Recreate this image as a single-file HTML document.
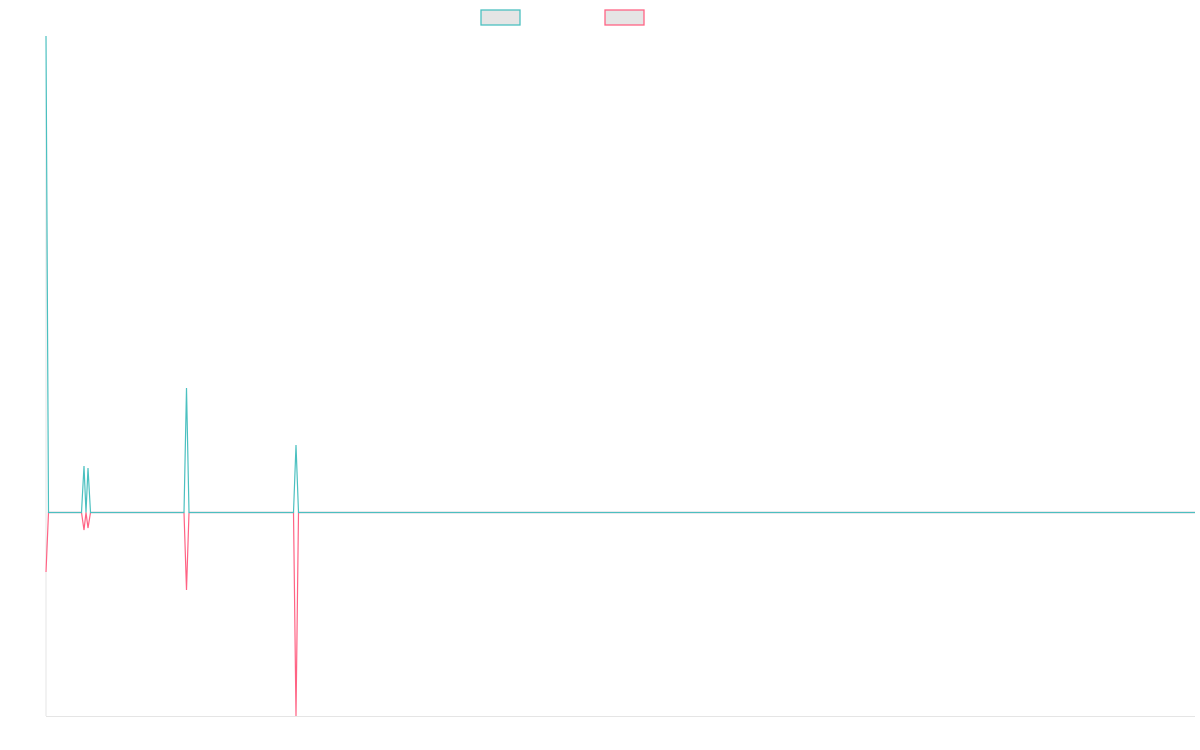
<!DOCTYPE html>
<html><head><style>html,body{margin:0;padding:0;background:#fff;}svg{display:block}</style></head>
<body>
<svg width="1200" height="750" xmlns="http://www.w3.org/2000/svg">
<rect x="481" y="10" width="39" height="15" fill="#e5e5e5" stroke="#4bc0c0" stroke-width="1.3"/>
<rect x="605" y="10" width="39" height="15" fill="#e5e5e5" stroke="#ff6384" stroke-width="1.3"/>
<line x1="46" y1="36" x2="46" y2="716" stroke="#e5e5e5" stroke-width="1"/>
<line x1="46" y1="716.5" x2="1195" y2="716.5" stroke="#e5e5e5" stroke-width="1"/>
<polyline fill="none" stroke="#ff6384" stroke-width="1.2" points="46,572 48.5,512.5 81.5,512.5 84,530 86,512.5 88,528 90.5,512.5 184,512.5 186.5,590 189,512.5 293.5,512.5 296,716 298.5,512.5 1195,512.5"/>
<polyline fill="none" stroke="#4bc0c0" stroke-width="1.2" points="46,36 48.5,512.5 81.5,512.5 84,466 86,512.5 88,468 90.5,512.5 184,512.5 186.5,388 189,512.5 293.5,512.5 296,445 298.5,512.5 1195,512.5"/>
</svg>
</body></html>
